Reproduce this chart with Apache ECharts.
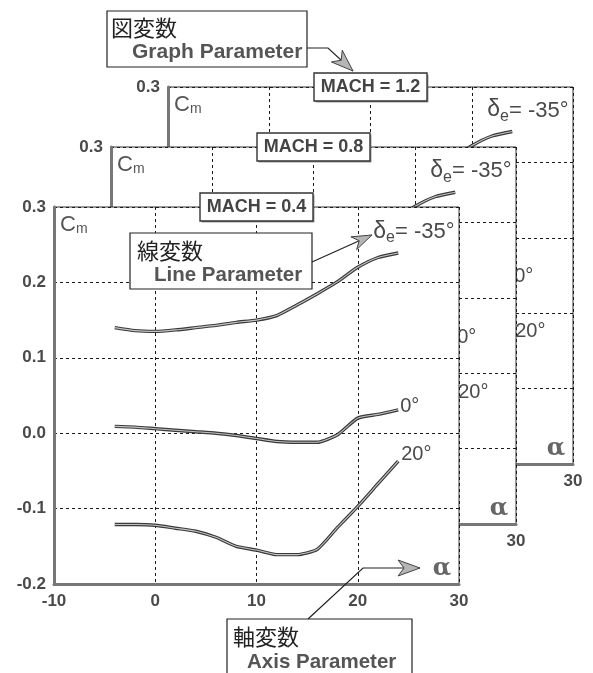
<!DOCTYPE html>
<html>
<head>
<meta charset="utf-8">
<script src="https://cdn.jsdelivr.net/npm/echarts@6/dist/echarts.min.js"></script>
<style>
  html, body { margin: 0; padding: 0; background: #fff; }
  #chart { width: 593px; height: 673px; }
</style>
</head>
<body>
<div id="chart"></div>
<script>
// Angle of attack samples (deg)
const alphaDeg = [-4, -2, 0, 2, 4, 6, 8, 10, 12, 14, 16, 18, 20, 22, 24];

// Pitching-moment coefficient Cm at MACH = 0.4, elevator deflection -35 / 0 / 20 deg
const cmMach04DeM35 = [0.140, 0.136, 0.135, 0.137, 0.140, 0.143, 0.147, 0.150, 0.156, 0.170, 0.185, 0.201, 0.220, 0.233, 0.239];
const cmMach04De0   = [0.009, 0.008, 0.006, 0.004, 0.002, 0.000, -0.003, -0.007, -0.011, -0.012, -0.012, -0.002, 0.020, 0.025, 0.031];
const cmMach04De20  = [-0.121, -0.121, -0.122, -0.126, -0.130, -0.138, -0.150, -0.155, -0.161, -0.161, -0.154, -0.125, -0.097, -0.067, -0.037];

// MACH = 0.8
const cmMach08DeM35 = [0.141, 0.137, 0.136, 0.138, 0.141, 0.144, 0.148, 0.151, 0.157, 0.171, 0.186, 0.202, 0.221, 0.234, 0.240];
const cmMach08De0   = [0.012, 0.010, 0.008, 0.006, 0.004, 0.002, -0.001, -0.005, -0.008, -0.009, -0.007, 0.006, 0.030, 0.038, 0.044];
const cmMach08De20  = [-0.118, -0.119, -0.120, -0.124, -0.128, -0.136, -0.147, -0.152, -0.158, -0.158, -0.150, -0.121, -0.093, -0.064, -0.035];

// MACH = 1.2
const cmMach12DeM35 = [0.142, 0.138, 0.137, 0.139, 0.142, 0.145, 0.149, 0.152, 0.158, 0.172, 0.187, 0.203, 0.222, 0.235, 0.241];
const cmMach12De0   = [0.013, 0.011, 0.009, 0.007, 0.005, 0.003, 0.000, -0.004, -0.007, -0.008, -0.006, 0.007, 0.031, 0.039, 0.045];
const cmMach12De20  = [-0.117, -0.118, -0.119, -0.123, -0.127, -0.135, -0.146, -0.151, -0.157, -0.157, -0.149, -0.120, -0.092, -0.063, -0.034];

// Axis ticks
const alphaTicks = [-10, 0, 10, 20, 30];
const cmTicks = [-0.2, -0.1, 0.0, 0.1, 0.2, 0.3];

// Panel titles (back to front) and elevator deflection labels
const machTitles = ['MACH = 1.2', 'MACH = 0.8', 'MACH = 0.4'];
const deflections = ['-35', '0', '20'];
const panelCurves = [
  [cmMach12DeM35, cmMach12De0, cmMach12De20],
  [cmMach08DeM35, cmMach08De0, cmMach08De20],
  [cmMach04DeM35, cmMach04De0, cmMach04De20]
];

// Where the α axis symbol sits inside each panel (data coordinates)
const alphaSymbolAt = [27.4, -0.180];

// ---- layout & style ----
const FONT = '"Liberation Sans", Arial, Helvetica, sans-serif';
const CJK = '"Noto Sans CJK JP", sans-serif';
const TEXT_GRAY = '#4a4a4a';
const PANEL_W = 405, PANEL_H = 377;
const panelOrigins = [[168, 87], [111, 147], [54, 207]]; // back, middle, front
const zBase = [10, 20, 30];

// end-label placement per curve (relative to the curve end)
const endLabelOffsets = [[-30, -20], [-3, -3], [-2, -7]];

function curveLabel(deflection, idx) {
  if (idx === 0) {
    return {
      formatter: '{d|δ}{e|e}{t|= ' + deflection + '°}',
      rich: {
        d: { fontSize: 23, color: TEXT_GRAY, fontFamily: FONT, verticalAlign: 'bottom', padding: [0, 0, 3, 0] },
        e: { fontSize: 16, color: TEXT_GRAY, fontFamily: FONT, verticalAlign: 'bottom' },
        t: { fontSize: 22, color: TEXT_GRAY, fontFamily: FONT, verticalAlign: 'bottom', padding: [0, 0, 3, 0] }
      }
    };
  }
  return { formatter: deflection + '°', fontSize: 20 };
}

const grids = [], xAxes = [], yAxes = [], series = [], graphics = [];

panelOrigins.forEach(([left, top], p) => {
  const z = zBase[p];
  grids.push({
    left: left, top: top, width: PANEL_W, height: PANEL_H,
    show: true, backgroundColor: '#fff', borderColor: '#333', borderWidth: 1, z: z
  });
  xAxes.push({
    gridIndex: p, type: 'value',
    min: alphaTicks[0], max: alphaTicks[alphaTicks.length - 1],
    interval: alphaTicks[1] - alphaTicks[0],
    z: z + 1,
    axisLine: { show: true, onZero: false, lineStyle: { color: '#777', width: 3 } },
    axisTick: { show: false },
    splitLine: { show: true, lineStyle: { color: '#1a1a1a', width: 1, type: [3, 3] } },
    axisLabel: { margin: 9, fontSize: 17, fontWeight: 'bold', color: TEXT_GRAY, fontFamily: FONT }
  });
  yAxes.push({
    gridIndex: p, type: 'value',
    min: cmTicks[0], max: cmTicks[cmTicks.length - 1],
    interval: +(cmTicks[1] - cmTicks[0]).toFixed(3),
    z: z + 1,
    axisLine: { show: true, onZero: false, lineStyle: { color: '#777', width: 3 } },
    axisTick: { show: false },
    splitLine: { show: true, lineStyle: { color: '#1a1a1a', width: 1, type: [3, 3] } },
    axisLabel: {
      margin: 8, fontSize: 17, fontWeight: 'bold', color: TEXT_GRAY, fontFamily: FONT,
      formatter: v => v.toFixed(1)
    },
    name: '{c|C}{m|m}', nameLocation: 'end', nameGap: -18, nameMoveOverlap: false,
    nameTextStyle: {
      align: 'left', verticalAlign: 'middle', padding: [0, 0, 0, 6],
      rich: {
        c: { fontSize: 22, color: '#555', fontFamily: FONT, verticalAlign: 'bottom' },
        m: { fontSize: 14, color: '#555', fontFamily: FONT, verticalAlign: 'bottom' }
      }
    }
  });

  panelCurves[p].forEach((values, c) => {
    const data = alphaDeg.map((a, i) => [a, values[i]]);
    const lab = curveLabel(deflections[c], c);
    // dark outline stroke carrying the end label
    series.push({
      type: 'line', xAxisIndex: p, yAxisIndex: p, data: data,
      showSymbol: false, smooth: 0.2, z: z + 2, silent: true,
      lineStyle: { color: '#3a3a3a', width: 3.4 },
      endLabel: Object.assign({
        show: true, distance: 5, offset: endLabelOffsets[c],
        color: TEXT_GRAY, fontFamily: FONT
      }, lab)
    });
    // light core stroke
    series.push({
      type: 'line', xAxisIndex: p, yAxisIndex: p, data: data,
      showSymbol: false, smooth: 0.2, z: z + 3, silent: true,
      lineStyle: { color: '#c4c4c4', width: 1.1 }
    });
  });

  // MACH title box straddling the panel's top edge
  const bw = 113, bh = 28;
  const cx = left + PANEL_W / 2;
  graphics.push({
    type: 'rect', z: z + 5, silent: true,
    shape: { x: cx - bw / 2 + 1.5, y: top - bh / 2 + 1.5, width: bw, height: bh },
    style: { fill: '#9a9a9a' }
  });
  graphics.push({
    type: 'rect', z: z + 5, silent: true,
    shape: { x: cx - bw / 2, y: top - bh / 2, width: bw, height: bh },
    style: { fill: '#fff', stroke: '#333', lineWidth: 1.4 }
  });
  graphics.push({
    type: 'text', z: z + 6, silent: true, x: cx, y: top + 0.5,
    style: {
      text: machTitles[p], fill: '#444', font: 'bold 18px ' + FONT,
      align: 'center', verticalAlign: 'middle'
    }
  });
});

// ---- callout annotations ----
function arrowHead(tip, from, len, halfW, notch) {
  const dx = tip[0] - from[0], dy = tip[1] - from[1];
  const d = Math.hypot(dx, dy), ux = dx / d, uy = dy / d;
  const px = -uy, py = ux;
  const bx = tip[0] - ux * len, by = tip[1] - uy * len;
  return [
    tip,
    [bx + px * halfW, by + py * halfW],
    [tip[0] - ux * (len - notch), tip[1] - uy * (len - notch)],
    [bx - px * halfW, by - py * halfW]
  ];
}

function calloutBox(x, y, w, h, jp, en, jpPos, enPos, enSize) {
  graphics.push({
    type: 'rect', z: 50, silent: true,
    shape: { x: x, y: y, width: w, height: h },
    style: { fill: '#fff', stroke: '#222', lineWidth: 1.2 }
  });
  graphics.push({
    type: 'text', z: 51, silent: true, x: jpPos[0], y: jpPos[1],
    style: { text: jp, fill: '#222', font: '22px ' + CJK, align: 'left', verticalAlign: 'middle' }
  });
  graphics.push({
    type: 'text', z: 51, silent: true, x: enPos[0], y: enPos[1],
    style: { text: en, fill: '#555', font: 'bold ' + enSize + 'px ' + FONT, align: 'left', verticalAlign: 'middle' }
  });
}

function leader(points, len, halfW) {
  graphics.push({
    type: 'polyline', z: 50, silent: true,
    shape: { points: points },
    style: { stroke: '#222', lineWidth: 1.2, fill: null }
  });
  const n = points.length;
  graphics.push({
    type: 'polygon', z: 51, silent: true,
    shape: { points: arrowHead(points[n - 1], points[n - 2], len, halfW, 6) },
    style: { fill: '#b5b5b5', stroke: '#444', lineWidth: 1 }
  });
}

calloutBox(107, 11, 200, 56, '図変数', 'Graph Parameter', [111, 28], [132, 52], 21);
leader([[307, 48], [328, 48], [353, 71]], 22, 8);

calloutBox(130, 233, 182, 56, '線変数', 'Line Parameter', [137, 251], [154, 275], 20.5);
leader([[312, 262], [372, 235]], 20, 7);

calloutBox(227, 619, 185, 70, '軸変数', 'Axis Parameter', [233, 637], [247, 662], 20.5);
leader([[308, 619], [363, 568], [420, 568]], 22, 8);

const chart = echarts.init(document.getElementById('chart'), null, { renderer: 'canvas' });
chart.setOption({
  animation: false,
  backgroundColor: '#fff',
  grid: grids,
  xAxis: xAxes,
  yAxis: yAxes,
  series: series,
  graphic: { elements: graphics }
});

// α axis symbol inside each panel, placed through the panel's own scales
panelOrigins.forEach((_, p) => {
  const pt = chart.convertToPixel({ gridIndex: p }, alphaSymbolAt);
  graphics.push({
    type: 'text', z: zBase[p] + 4, silent: true, x: pt[0], y: pt[1],
    style: {
      text: 'α', fill: '#666', font: 'bold 24px "DejaVu Serif", serif',
      align: 'left', verticalAlign: 'middle'
    }
  });
});
chart.setOption({ graphic: { elements: graphics } });
</script>
</body>
</html>
